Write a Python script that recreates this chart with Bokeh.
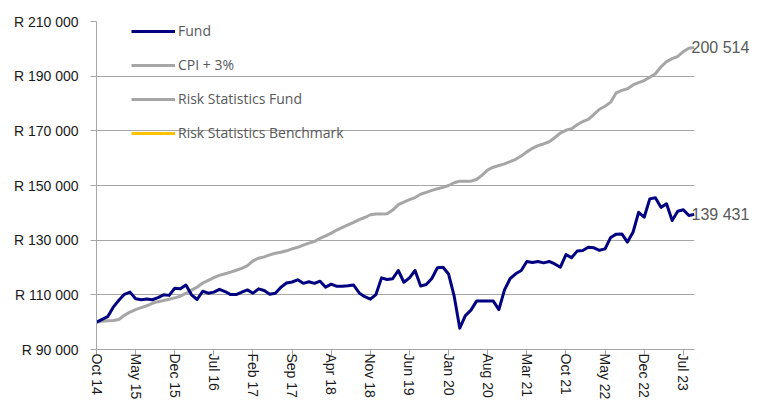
from bokeh.plotting import figure
from bokeh.models import FixedTicker, Legend, LegendItem, LinearAxis, ColumnDataSource
from bokeh.embed import file_html
from bokeh.resources import INLINE

# ---- data (monthly, Oct 2014 .. Sep 2023) ----
fund = [
    100000, 101000, 102000, 105500, 108000, 110200, 111000, 108600, 108200, 108500, 108200, 109000,
    110000, 109800, 112400, 112200, 113600, 110000, 108300, 111300, 110600, 111000, 112000, 111200,
    110100, 110100, 111000, 111800, 110600, 112200, 111600, 110200, 110600, 112800, 114300, 114700,
    115500, 114200, 114800, 114200, 115000, 112800, 113900, 113100, 113100, 113300, 113600, 110700,
    109300, 108400, 110100, 116200, 115600, 115900, 118900, 114600, 116200, 118900, 113200, 113800,
    116000, 119900, 120100, 117600, 109500, 97800, 102400, 104400, 107700, 107700, 107700, 107700,
    104600, 111800, 115900, 117700, 118900, 122200, 121800, 122200, 121700, 122200, 121300, 120100,
    124700, 123600, 126000, 126200, 127400, 127200, 126300, 126800, 131000, 132200, 132300, 129300,
    132900, 140200, 138400, 145100, 145500, 142000, 143300, 137200, 140600, 141100, 139000, 139431,
]
cpi = [
    100000, 100300, 100500, 100600, 101000, 102500, 103700, 104600, 105300, 106000, 106900, 107500,
    107900, 108400, 108900, 109500, 110500, 111700, 112800, 114300, 115300, 116300, 117100, 117700,
    118300, 119000, 119700, 120700, 122400, 123400, 123900, 124600, 125200, 125600, 126100, 126800,
    127400, 128200, 128900, 129500, 130700, 131600, 132600, 133700, 134700, 135600, 136500, 137500,
    138300, 139300, 139600, 139600, 139700, 141000, 143000, 143900, 144800, 145600, 146800, 147500,
    148200, 148800, 149300, 150000, 151000, 151600, 151600, 151600, 152200, 153800, 155700, 156700,
    157300, 157900, 158700, 159600, 160800, 162300, 163600, 164600, 165200, 166000, 167500, 169200,
    170200, 170800, 172200, 173400, 174200, 176000, 177900, 179000, 180500, 183900, 184800, 185400,
    186800, 187600, 188400, 189600, 190900, 193400, 195300, 196400, 197200, 199000, 200200, 200514,
]
# legend-only series (no values shown in the chart)
risk_fund = [float("nan")]
risk_bench = [float("nan")]
tick_labels = ["Oct 14", "May 15", "Dec 15", "Jul 16", "Feb 17", "Sep 17", "Apr 18", "Nov 18",
               "Jun 19", "Jan 20", "Aug 20", "Mar 21", "Oct 21", "May 22", "Dec 22", "Jul 23"]
tick_step = 7
y_ticks = [90000, 110000, 130000, 150000, 170000, 190000, 210000]
series_names = ["Fund", "CPI + 3%", "Risk Statistics Fund", "Risk Statistics Benchmark"]

FUND_C = "#000080"
CPI_C = "#a6a6a6"
RSF_C = "#a6a6a6"
RSB_C = "#ffc000"
GRID_C = "#a6a6a6"
TXT_C = "#595959"


def sp(v):
    return f"{v:,.0f}".replace(",", " ")


xs = list(range(len(fund)))
tick_pos = [i * tick_step for i in range(len(tick_labels))]

p = figure(width=765, height=403, output_backend="svg", toolbar_location=None,
           x_range=(0, len(fund) - 1), y_range=(y_ticks[0], y_ticks[-1]),
           min_border_left=96, min_border_right=71, min_border_top=21, min_border_bottom=54)
p.outline_line_color = None
p.background_fill_color = "white"
p.border_fill_color = "white"

# axes
p.xaxis.ticker = FixedTicker(ticks=tick_pos)
p.xaxis.major_label_overrides = {t: l for t, l in zip(tick_pos, tick_labels)}
p.xaxis.major_label_orientation = "vertical"
p.yaxis.ticker = FixedTicker(ticks=y_ticks)
p.yaxis.major_label_overrides = {t: "R " + sp(t) for t in y_ticks}
for ax in (p.xaxis[0], p.yaxis[0]):
    ax.axis_line_color = GRID_C
    ax.axis_line_width = 1
    ax.major_tick_line_color = GRID_C
    ax.major_tick_out = 6
    ax.major_tick_in = 0
    ax.minor_tick_line_color = None
    ax.major_label_text_font = "Liberation Sans"
    ax.major_label_text_font_size = "14px"
    ax.major_label_text_color = "#1a1a1a"
p.xaxis.major_label_standoff = -2
p.yaxis.major_label_standoff = 12

p.xgrid.grid_line_color = None
p.ygrid.grid_line_color = GRID_C
p.ygrid.grid_line_width = 1

src = ColumnDataSource(dict(x=xs, fund=fund, cpi=cpi))
src_rsf = ColumnDataSource(dict(x=list(range(len(risk_fund))), y=risk_fund))
src_rsb = ColumnDataSource(dict(x=list(range(len(risk_bench))), y=risk_bench))

r_cpi = p.line("x", "cpi", source=src, line_color=CPI_C, line_width=3, line_join="round")
r_fund = p.line("x", "fund", source=src, line_color=FUND_C, line_width=3, line_join="round")
r_rsf = p.line("x", "y", source=src_rsf, line_color=RSF_C, line_width=3)
r_rsb = p.line("x", "y", source=src_rsb, line_color=RSB_C, line_width=3)

legend = Legend(items=[LegendItem(label=series_names[0], renderers=[r_fund]),
                       LegendItem(label=series_names[1], renderers=[r_cpi]),
                       LegendItem(label=series_names[2], renderers=[r_rsf]),
                       LegendItem(label=series_names[3], renderers=[r_rsb])],
                location=(35, 207), padding=0, margin=0, spacing=15,
                glyph_width=44, glyph_height=14, label_height=14, label_standoff=3,
                label_text_font="Open Sans", label_text_font_size="14px",
                label_text_color=TXT_C, background_fill_alpha=0, border_line_color=None)
p.add_layout(legend, "center")

# end-value labels on a right axis (not clipped by the frame)
end_vals = [cpi[-1], fund[-1]]
rax = LinearAxis(ticker=FixedTicker(ticks=end_vals),
                 major_label_overrides={v: sp(v) for v in end_vals})
rax.axis_line_color = None
rax.major_tick_line_color = None
rax.minor_tick_line_color = None
rax.major_tick_out = 0
rax.major_tick_in = 0
rax.major_label_standoff = -3
rax.major_label_text_font = "Liberation Sans"
rax.major_label_text_font_size = "16px"
rax.major_label_text_color = TXT_C
p.add_layout(rax, "right")

open("out.html", "w").write(file_html(p, INLINE))
